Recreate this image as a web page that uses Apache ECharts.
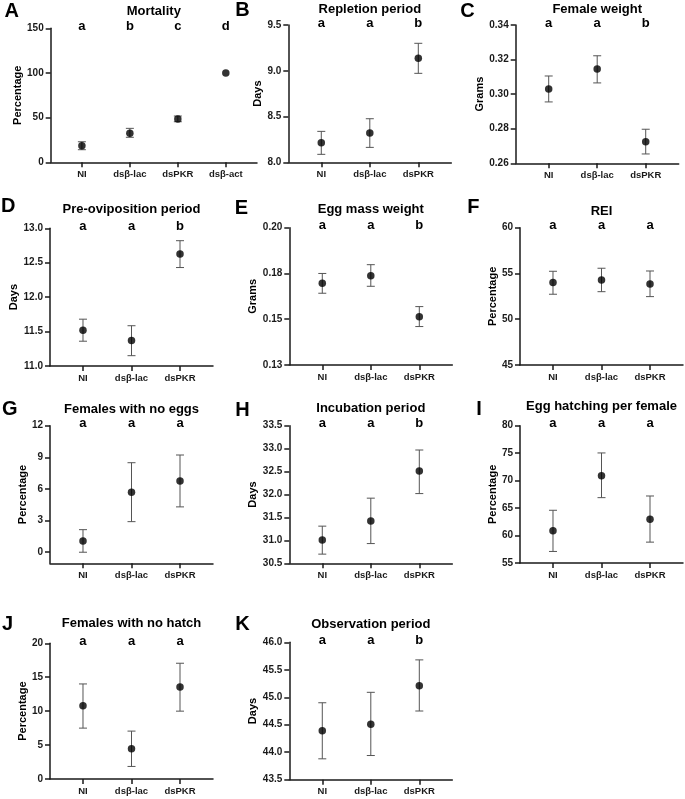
<!DOCTYPE html>
<html>
<head>
<meta charset="utf-8">
<script src="https://cdn.jsdelivr.net/npm/echarts@6/dist/echarts.min.js"></script>
<style>
html,body{margin:0;padding:0;background:#fff;}
#chart{width:685px;height:799px;}
</style>
</head>
<body>
<div id="chart"></div>
<script>
// ---------- DATA ----------
const categories3 = ['NI', 'dsβ-lac', 'dsPKR'];
const categoriesA = ['NI', 'dsβ-lac', 'dsPKR', 'dsβ-act'];

const mortalityMean = [18.6, 32.5, 48.4, 100];
const mortalityLow  = [14.1, 28.0, 45.4, null];
const mortalityHigh = [23.0, 38.0, 51.8, null];
const mortalitySig  = ['a', 'b', 'c', 'd'];

const repletionMean = [8.214, 8.32, 9.136];
const repletionLow  = [8.087, 8.163, 8.972];
const repletionHigh = [8.338, 8.476, 9.30];
const repletionSig  = ['a', 'a', 'b'];

const femaleWeightMean = [0.303, 0.3145, 0.2725];
const femaleWeightLow  = [0.2955, 0.3065, 0.2654];
const femaleWeightHigh = [0.3105, 0.3222, 0.2797];
const femaleWeightSig  = ['a', 'a', 'b'];

const preOviMean = [11.52, 11.37, 12.627];
const preOviLow  = [11.36, 11.15, 12.43];
const preOviHigh = [11.68, 11.585, 12.82];
const preOviSig  = ['a', 'a', 'b'];

const eggMassMean = [0.1696, 0.1738, 0.1514];
const eggMassLow  = [0.1642, 0.168, 0.146];
const eggMassHigh = [0.175, 0.1798, 0.1569];
const eggMassSig  = ['a', 'a', 'b'];

const reiMean = [54.0, 54.29, 53.85];
const reiLow  = [52.73, 53.01, 52.47];
const reiHigh = [55.24, 55.57, 55.27];
const reiSig  = ['a', 'a', 'a'];

const noEggsMean = [1.07, 5.69, 6.76];
const noEggsLow  = [0, 2.9, 4.3];
const noEggsHigh = [2.14, 8.49, 9.22];
const noEggsSig  = ['a', 'a', 'a'];

const incubationMean = [31.01, 31.42, 32.51];
const incubationLow  = [30.7, 30.93, 32.02];
const incubationHigh = [31.31, 31.92, 32.97];
const incubationSig  = ['a', 'a', 'b'];

const hatchingMean = [60.85, 70.9, 62.98];
const hatchingLow  = [57.1, 66.9, 58.8];
const hatchingHigh = [64.6, 75.04, 67.2];
const hatchingSig  = ['a', 'a', 'a'];

const noHatchMean = [10.78, 4.46, 13.57];
const noHatchLow  = [7.5, 1.85, 10.0];
const noHatchHigh = [14.01, 7.06, 17.06];
const noHatchSig  = ['a', 'a', 'a'];

const observationMean = [44.39, 44.51, 45.21];
const observationLow  = [43.88, 43.94, 44.75];
const observationHigh = [44.9, 45.09, 45.68];
const observationSig  = ['a', 'a', 'b'];

const ticksG = [0, 3, 6, 9, 12];

// ---------- LAYOUT ----------
const FONT = '"Liberation Sans", Arial, Helvetica, sans-serif';
const panels = [
  {letter:'A', title:'Mortality', yName:'Percentage', cats:categoriesA, mean:mortalityMean, low:mortalityLow, high:mortalityHigh, sig:mortalitySig,
   L:50.7, R:257, T:28.3, B:162.3, xMin:-0.65, xMax:3.65, yMin:0, yMax:150, yInt:50, dec:0, gap:21, lx:11.7, ly:11.7, tx:153.8, ty:11.5},
  {letter:'B', title:'Repletion period', yName:'Days', cats:categories3, mean:repletionMean, low:repletionLow, high:repletionHigh, sig:repletionSig,
   L:288.3, R:451.3, T:25, B:162.3, xMin:-0.68, xMax:2.68, yMin:8, yMax:9.5, yInt:0.5, dec:1, gap:25, lx:242.5, ly:10, tx:369.8, ty:9.5},
  {letter:'C', title:'Female weight', yName:'Grams', cats:categories3, mean:femaleWeightMean, low:femaleWeightLow, high:femaleWeightHigh, sig:femaleWeightSig,
   L:515.7, R:678.7, T:25, B:163.3, xMin:-0.68, xMax:2.68, yMin:0.26, yMax:0.34, yInt:0.02, dec:2, gap:30.5, lx:467.5, ly:11.7, tx:597.2, ty:9},
  {letter:'D', title:'Pre-oviposition period', yName:'Days', cats:categories3, mean:preOviMean, low:preOviLow, high:preOviHigh, sig:preOviSig,
   L:50, R:213, T:228.3, B:366, xMin:-0.68, xMax:2.68, yMin:11, yMax:13, yInt:0.5, dec:1, gap:30, lx:8.3, ly:206.7, tx:131.5, ty:209.5},
  {letter:'E', title:'Egg mass weight', yName:'Grams', cats:categories3, mean:eggMassMean, low:eggMassLow, high:eggMassHigh, sig:eggMassSig,
   L:289.3, R:452.3, T:227.7, B:365, xMin:-0.68, xMax:2.68, yMin:0.125, yMax:0.2, yInt:0.025, dec:2, gap:29, lx:241.5, ly:208.3, tx:370.8, ty:209.5},
  {letter:'F', title:'REI', yName:'Percentage', cats:categories3, mean:reiMean, low:reiLow, high:reiHigh, sig:reiSig,
   L:520, R:683, T:227.7, B:365, xMin:-0.68, xMax:2.68, yMin:45, yMax:60, yInt:5, dec:0, gap:22, lx:473.3, ly:207.5, tx:601.5, ty:211},
  {letter:'G', title:'Females with no eggs', yName:'Percentage', cats:categories3, mean:noEggsMean, low:noEggsLow, high:noEggsHigh, sig:noEggsSig,
   L:50, R:213, T:425.7, B:563.3, xMin:-0.68, xMax:2.68, yMin:-1.05, yMax:12, yTicks:ticksG, dec:0, gap:14.5, lx:9.8, ly:409.2, tx:131.5, ty:409.5},
  {letter:'H', title:'Incubation period', yName:'Days', cats:categories3, mean:incubationMean, low:incubationLow, high:incubationHigh, sig:incubationSig,
   L:289.3, R:452.3, T:425.7, B:563.3, xMin:-0.68, xMax:2.68, yMin:30.5, yMax:33.5, yInt:0.5, dec:1, gap:30, lx:242.5, ly:410, tx:370.8, ty:408},
  {letter:'I', title:'Egg hatching per female', yName:'Percentage', cats:categories3, mean:hatchingMean, low:hatchingLow, high:hatchingHigh, sig:hatchingSig,
   L:520, R:683, T:425.7, B:563, xMin:-0.68, xMax:2.68, yMin:55, yMax:80, yInt:5, dec:0, gap:22, lx:479, ly:409.2, tx:601.5, ty:406.5},
  {letter:'J', title:'Females with no hatch', yName:'Percentage', cats:categories3, mean:noHatchMean, low:noHatchLow, high:noHatchHigh, sig:noHatchSig,
   L:50, R:213, T:643.3, B:779, xMin:-0.68, xMax:2.68, yMin:0, yMax:20, yInt:5, dec:0, gap:19.5, lx:7.5, ly:624.2, tx:131.5, ty:623},
  {letter:'K', title:'Observation period', yName:'Days', cats:categories3, mean:observationMean, low:observationLow, high:observationHigh, sig:observationSig,
   L:289.3, R:452.3, T:642.3, B:779.7, xMin:-0.68, xMax:2.68, yMin:43.5, yMax:46, yInt:0.5, dec:1, gap:30, lx:242.5, ly:624.2, tx:370.8, ty:624}
];

const AXIS_COLOR = '#1a1a1a';
const grid = [], xAxis = [], yAxis = [], series = [], graphic = [];

function fmt(v, dec) {
  const p = Math.pow(10, dec);
  return (Math.round(v * p + 1e-6) / p).toFixed(dec);
}

panels.forEach((p, i) => {
  const idx = p.cats.map((_, k) => k);
  grid.push({left: p.L, top: p.T, width: p.R - p.L, height: p.B - p.T, containLabel: false});
  xAxis.push({
    type: 'value', gridIndex: i, min: p.xMin, max: p.xMax, position: 'bottom',
    splitLine: {show: false},
    axisLine: {show: true, onZero: false, lineStyle: {color: AXIS_COLOR, width: 1.5}},
    axisTick: {show: true, customValues: idx, length: 5, lineStyle: {color: AXIS_COLOR, width: 1.5}},
    axisLabel: {show: true, customValues: idx, margin: 7, color: '#1a1a1a', fontWeight: 'bold', fontSize: 9.5, fontFamily: FONT,
      formatter: (v) => p.cats[Math.round(v)]}
  });
  xAxis.push({
    type: 'value', gridIndex: i, min: p.xMin, max: p.xMax, position: 'top',
    splitLine: {show: false}, axisLine: {show: false}, axisTick: {show: false},
    axisLabel: {show: true, customValues: idx, margin: -4.5, color: '#000', fontWeight: 'bold', fontSize: 13, fontFamily: FONT,
      formatter: (v) => p.sig[Math.round(v)]}
  });
  const yAx = {
    type: 'value', gridIndex: i, min: p.yMin, max: p.yMax,
    name: p.yName, nameLocation: 'middle', nameRotate: 90, nameGap: p.gap,
    nameTextStyle: {color: '#000', fontWeight: 'bold', fontSize: 11, fontFamily: FONT},
    splitLine: {show: false},
    axisLine: {show: true, onZero: false, lineStyle: {color: AXIS_COLOR, width: 1.5}},
    axisTick: {show: true, length: 5, lineStyle: {color: AXIS_COLOR, width: 1.5}},
    axisLabel: {show: true, margin: 7, color: '#1a1a1a', fontWeight: 'bold', fontSize: 10, fontFamily: FONT,
      formatter: (v) => fmt(v, p.dec)}
  };
  if (p.yTicks) {
    yAx.axisTick.customValues = p.yTicks;
    yAx.axisLabel.customValues = p.yTicks;
  } else {
    yAx.interval = p.yInt;
  }
  yAxis.push(yAx);

  const errData = [];
  idx.forEach(k => { if (p.low[k] != null) errData.push([k, p.low[k], p.high[k]]); });
  series.push({
    type: 'custom', xAxisIndex: 2 * i, yAxisIndex: i, z: 2,
    encode: {x: 0, y: [1, 2]},
    data: errData,
    renderItem: (params, api) => {
      const x = api.value(0);
      const a = api.coord([x, api.value(1)]);
      const b = api.coord([x, api.value(2)]);
      const w = 4;
      const st = {stroke: '#555', lineWidth: 1};
      return {type: 'group', children: [
        {type: 'line', shape: {x1: a[0], y1: a[1], x2: b[0], y2: b[1]}, style: st},
        {type: 'line', shape: {x1: a[0] - w, y1: a[1], x2: a[0] + w, y2: a[1]}, style: st},
        {type: 'line', shape: {x1: b[0] - w, y1: b[1], x2: b[0] + w, y2: b[1]}, style: st}
      ]};
    }
  });
  series.push({
    type: 'scatter', xAxisIndex: 2 * i, yAxisIndex: i, z: 3,
    symbol: 'circle', symbolSize: 7.5, itemStyle: {color: '#000'},
    data: idx.map(k => [k, p.mean[k]])
  });

  graphic.push({type: 'text', silent: true, style: {text: p.letter, x: p.lx, y: p.ly, align: 'center', verticalAlign: 'middle',
    font: 'bold 20px ' + FONT, fill: '#000'}});
  graphic.push({type: 'text', silent: true, style: {text: p.title, x: p.tx, y: p.ty, align: 'center', verticalAlign: 'middle',
    font: 'bold 13px ' + FONT, fill: '#000'}});
});

const chart = echarts.init(document.getElementById('chart'), null, {renderer: 'canvas'});
chart.setOption({
  animation: false,
  backgroundColor: '#fff',
  grid, xAxis, yAxis, series, graphic
});
</script>
</body>
</html>
